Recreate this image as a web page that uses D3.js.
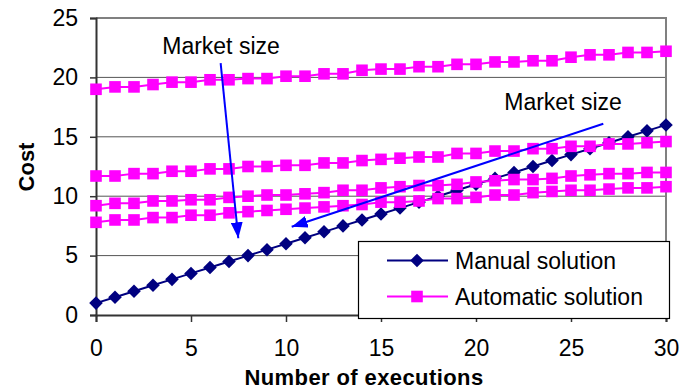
<!DOCTYPE html>
<html>
<head>
<meta charset="utf-8">
<script src="https://cdn.jsdelivr.net/npm/d3@7"></script>
<style>
  html, body { margin: 0; padding: 0; background: #fff; }
  svg { display: block; font-family: "Liberation Sans", Arial, sans-serif; }
</style>
</head>
<body>
<svg id="chart" width="680" height="390"></svg>
<script>
// Number of executions (x categories)
const executions = [0,1,2,3,4,5,6,7,8,9,10,11,12,13,14,15,16,17,18,19,20,21,22,23,24,25,26,27,28,29,30];

// Cost of the manual solution
const manualCost = [1.0,1.5,2.0,2.5,3.0,3.5,4.0,4.5,5.0,5.5,6.0,6.5,7.0,7.5,8.0,8.5,9.0,9.5,10.0,10.5,11.0,11.5,12.0,12.5,13.0,13.5,14.0,14.5,15.0,15.5,16.0];

// Cost of the automatic solution for four market sizes
const autoCostA = [19.0,19.2,19.2,19.4,19.6,19.6,19.8,19.8,19.9,19.9,20.1,20.1,20.3,20.3,20.6,20.7,20.7,20.9,20.9,21.1,21.1,21.3,21.3,21.4,21.4,21.7,21.9,21.9,22.1,22.1,22.2];
const autoCostB = [11.7,11.7,11.9,11.9,12.1,12.1,12.3,12.3,12.5,12.5,12.6,12.6,12.8,12.8,13.0,13.1,13.2,13.3,13.3,13.6,13.6,13.8,13.8,14.0,14.0,14.2,14.2,14.4,14.4,14.5,14.6];
const autoCostC = [9.2,9.4,9.4,9.6,9.6,9.7,9.7,9.9,10.0,10.1,10.1,10.2,10.3,10.5,10.5,10.7,10.8,10.9,10.9,11.0,11.2,11.3,11.4,11.4,11.5,11.7,11.8,11.9,11.9,12.0,12.0];
const autoCostD = [7.8,8.0,8.0,8.2,8.2,8.4,8.4,8.6,8.7,8.8,8.9,9.0,9.1,9.2,9.3,9.5,9.5,9.6,9.8,9.8,9.9,10.1,10.1,10.3,10.4,10.5,10.5,10.6,10.7,10.7,10.8];

const xTickValues = [0,5,10,15,20,25,30];
const yTickValues = [0,5,10,15,20,25];

const legendLabels = ["Manual solution", "Automatic solution"];
const annotationText = ["Market size", "Market size"];
// annotation arrows in data units: start [x, y] and tip [x, y]
const arrowFrom = [[6.56, 21.2], [26.7, 16.1]];
const arrowTo = [[7.49, 6.46], [10.3, 7.43]];
const annotationPos = [[6.58, 21.95], [24.58, 17.26]];

const manualColor = "#000080";
const autoColor = "#ff00ff";
const arrowColor = "#0000ff";

const svg = d3.select("#chart");
const x = d3.scaleLinear().domain([0, 30]).range([96, 666]);
const y = d3.scaleLinear().domain([0, 25]).range([315, 18]);

const tickFont = 23;
const textFont = 23;

// horizontal gridlines
svg.append("g")
  .selectAll("line")
  .data(yTickValues.filter(v => v > 0 && v < 25))
  .join("line")
  .attr("x1", x(0)).attr("x2", x(30))
  .attr("y1", d => y(d)).attr("y2", d => y(d))
  .attr("stroke", "#555").attr("stroke-width", 1);

// plot frame top and right
svg.append("path")
  .attr("d", `M${x(0)},${y(25)}H${x(30)}V${y(0)}`)
  .attr("fill", "none").attr("stroke", "#808080").attr("stroke-width", 2);

// y axis
const yAxis = d3.axisLeft(y).tickValues(yTickValues).tickSize(6).tickPadding(12);
const gy = svg.append("g").attr("transform", `translate(${x(0)},0)`).call(yAxis);
gy.select(".domain").attr("stroke", "#333").attr("stroke-width", 2);
gy.selectAll(".tick line").attr("stroke", "#333").attr("stroke-width", 1.5);
gy.selectAll(".tick text").attr("font-size", tickFont).attr("fill", "#000")
  .attr("font-family", "Liberation Sans, Arial, sans-serif");

// x axis
const xAxis = d3.axisBottom(x).tickValues(xTickValues).tickSize(7).tickPadding(18);
const gx = svg.append("g").attr("transform", `translate(0,${y(0)})`).call(xAxis);
gx.select(".domain").attr("stroke", "#333").attr("stroke-width", 2);
gx.selectAll(".tick line").attr("stroke", "#333").attr("stroke-width", 1.5);
gx.selectAll(".tick text").attr("font-size", tickFont).attr("fill", "#000")
  .attr("font-family", "Liberation Sans, Arial, sans-serif");

// axis titles
svg.append("text")
  .attr("x", 364).attr("y", 385)
  .attr("text-anchor", "middle")
  .attr("font-size", 22).attr("font-weight", "bold")
  .attr("letter-spacing", 0.4)
  .text("Number of executions");
svg.append("text")
  .attr("transform", "translate(34,167) rotate(-90)")
  .attr("text-anchor", "middle")
  .attr("font-size", 22).attr("font-weight", "bold")
  .text("Cost");

const line = d3.line().x((d, i) => x(executions[i])).y(d => y(d));
const diamondPath = d3.symbol().type(d3.symbolSquare).size(92)();
const sq = 11.6;

function drawDiamonds(g, values, color) {
  g.selectAll("path.pt")
    .data(values)
    .join("path")
    .attr("class", "pt")
    .attr("d", diamondPath)
    .attr("transform", (d, i) => `translate(${x(executions[i])},${y(d)}) rotate(45)`)
    .attr("fill", color);
}
function drawSquares(g, values, color) {
  g.selectAll("rect.pt")
    .data(values)
    .join("rect")
    .attr("class", "pt")
    .attr("x", (d, i) => x(executions[i]) - sq / 2)
    .attr("y", d => y(d) - sq / 2)
    .attr("width", sq).attr("height", sq)
    .attr("fill", color);
}

// manual solution series
const gm = svg.append("g");
gm.append("path").datum(manualCost).attr("d", line)
  .attr("fill", "none").attr("stroke", manualColor).attr("stroke-width", 2);
drawDiamonds(gm, manualCost, manualColor);

// automatic solution series
[autoCostA, autoCostB, autoCostC, autoCostD].forEach(series => {
  const g = svg.append("g");
  g.append("path").datum(series).attr("d", line)
    .attr("fill", "none").attr("stroke", autoColor).attr("stroke-width", 2);
  drawSquares(g, series, autoColor);
});

// arrow annotations
svg.append("defs").append("marker")
  .attr("id", "head")
  .attr("markerUnits", "userSpaceOnUse")
  .attr("viewBox", "0 0 16 12")
  .attr("refX", 16).attr("refY", 6)
  .attr("markerWidth", 16).attr("markerHeight", 12)
  .attr("orient", "auto")
  .append("path").attr("d", "M0,0L16,6L0,12Z").attr("fill", arrowColor);

arrowFrom.forEach((from, i) => {
  svg.append("line")
    .attr("x1", x(from[0])).attr("y1", y(from[1]))
    .attr("x2", x(arrowTo[i][0])).attr("y2", y(arrowTo[i][1]))
    .attr("stroke", arrowColor).attr("stroke-width", 2)
    .attr("marker-end", "url(#head)");
});

annotationText.forEach((t, i) => {
  svg.append("text")
    .attr("x", x(annotationPos[i][0])).attr("y", y(annotationPos[i][1]))
    .attr("text-anchor", "middle")
    .attr("font-size", textFont)
    .text(t);
});

// legend
const lg = svg.append("g");
lg.append("rect")
  .attr("x", 358.5).attr("y", 241.5).attr("width", 311).attr("height", 77)
  .attr("fill", "#fff").attr("stroke", "#000").attr("stroke-width", 1.2);
const legendColors = [manualColor, autoColor];
legendLabels.forEach((label, i) => {
  const cy = 260.5 + i * 36;
  lg.append("line").attr("x1", 387).attr("x2", 448).attr("y1", cy).attr("y2", cy)
    .attr("stroke", legendColors[i]).attr("stroke-width", 2);
  if (i === 0) {
    lg.append("path")
      .attr("d", diamondPath)
      .attr("transform", `translate(417,${cy}) rotate(45)`)
      .attr("fill", manualColor);
  } else {
    lg.append("rect").attr("x", 417 - sq / 2).attr("y", cy - sq / 2)
      .attr("width", sq).attr("height", sq).attr("fill", autoColor);
  }
  lg.append("text").attr("x", 455).attr("y", cy).attr("dy", "0.35em")
    .attr("font-size", textFont).text(label);
});
</script>
</body>
</html>
